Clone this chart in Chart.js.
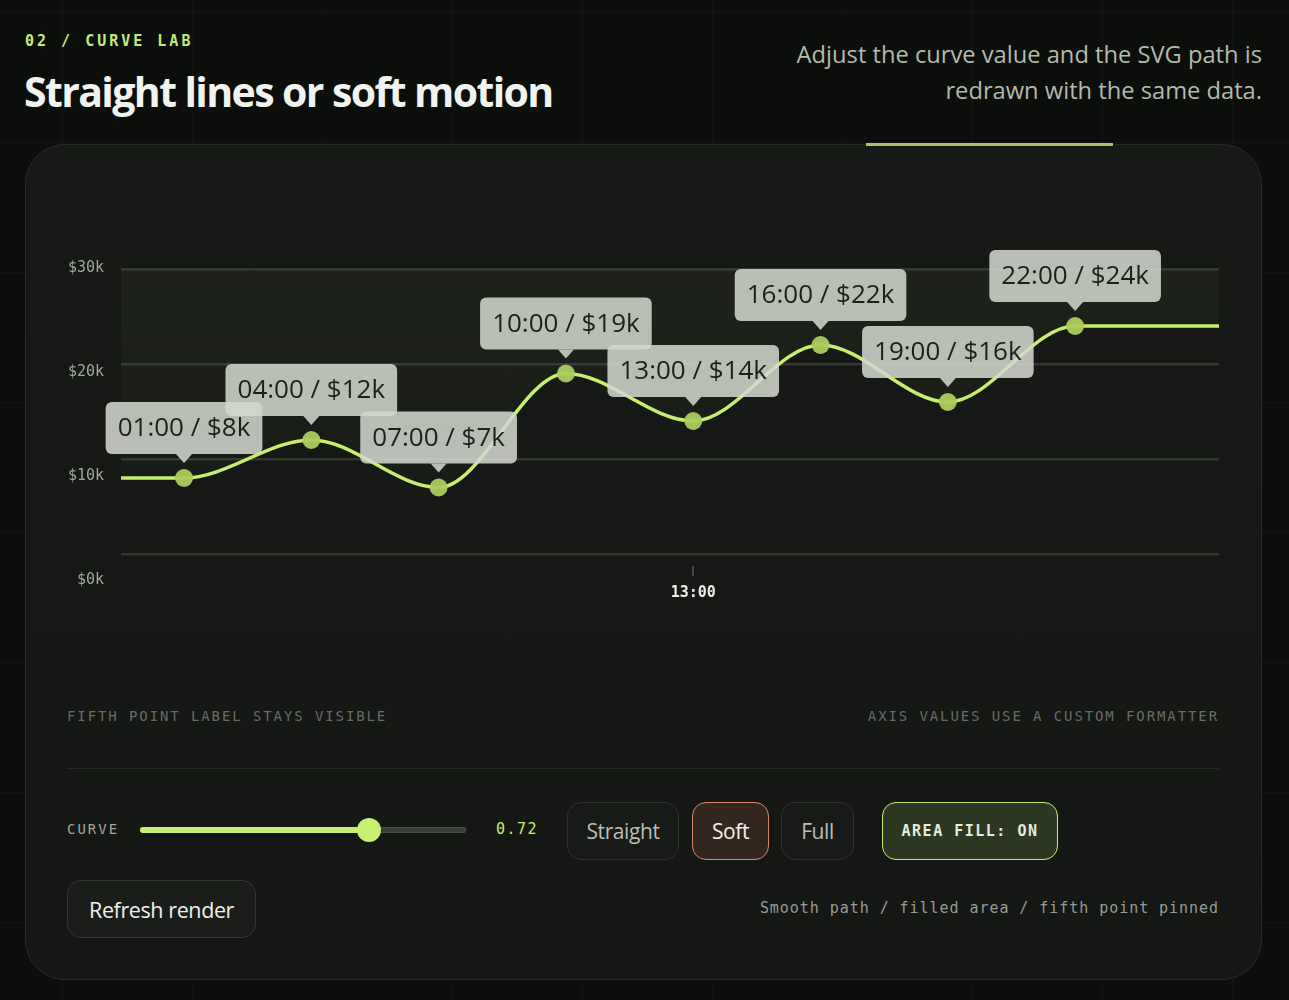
<!DOCTYPE html>
<html>
<head>
<meta charset="utf-8">
<script src="https://cdn.jsdelivr.net/npm/chart.js@4.4.1/dist/chart.umd.min.js"></script>
<style>
  html, body { margin:0; padding:0; }
  body {
    width:1289px; height:1000px; overflow:hidden; position:relative;
    background-color:#0c0e0c;
    background-image:
      linear-gradient(to right, rgba(255,255,255,0.022) 1px, transparent 1px),
      linear-gradient(to bottom, rgba(255,255,255,0.022) 1px, transparent 1px);
    background-size:130px 130px;
    background-position:62px 12px;
    font-family:'Open Sans','Noto Sans',sans-serif;
  }
  .abs { position:absolute; }
  .eyebrow { left:25px; top:32px; font:700 15px 'DejaVu Sans Mono',monospace; letter-spacing:3px; color:#c4ec74; }
  h1 { position:absolute; margin:0; left:24px; top:64px; font:700 41px 'Open Sans',sans-serif; letter-spacing:-1.6px; color:#f1f3ee; line-height:54px; white-space:nowrap; }
  .sub { right:27px; top:36px; width:540px; text-align:right; font:400 23.7px 'Open Sans',sans-serif; line-height:36px; color:#b3baad; }
  .card { left:25px; top:144px; width:1235px; height:834px; border-radius:40px; border:1px solid #272b26; background:linear-gradient(180deg,#161916 0%,#141714 100%); }
  .bar { left:866px; top:143px; width:247px; height:3px; background:#a8c56b; }
  .chartbox { left:40px; top:180px; width:1200px; height:460px; }
  .mono { font-family:'DejaVu Sans Mono',monospace; }
  .foot { top:708px; font-size:14px; letter-spacing:1.9px; color:#676d65; white-space:nowrap; }
  .divider { left:67px; top:768px; width:1152px; height:1px; background:#252924; }
  .curve { left:67px; top:821px; font-size:14px; letter-spacing:2px; color:#a1a69d; }
  .track { left:140px; top:827px; width:326px; height:6px; border-radius:3px; background:#393d38; box-shadow: inset 0 0 0 1px #4b4f49; }
  .trackfill { left:140px; top:827px; width:229px; height:6px; border-radius:3px; background:#c6ee72; }
  .thumb { left:357px; top:818px; width:24px; height:24px; border-radius:50%; background:#c8f074; }
  .val { left:496px; top:820px; font-size:15px; color:#c4ec74; letter-spacing:1.5px; }
  .btn { display:flex; align-items:center; justify-content:center; box-sizing:border-box; border-radius:14px; border:1px solid #2e322d; background:#171a17; color:#b9beb4; font:400 21px 'Open Sans',sans-serif; letter-spacing:-0.4px; }
  .soft { background:#33261f; border-color:#d9846b; color:#f5f0ea; }
  .area { background:#2c3822; border-color:#c5ec70; color:#e6ecdc; font:700 15px 'DejaVu Sans Mono',monospace; letter-spacing:1.5px; }
  .refresh { border-color:#343833; background:#1a1d1a; color:#eef0eb; font-size:21.5px; }
  .note { right:70px; top:899px; font-size:15px; letter-spacing:0.95px; color:#979c94; white-space:nowrap; }
</style>
</head>
<body>
<div class="abs eyebrow">02 / CURVE LAB</div>
<h1>Straight lines or soft motion</h1>
<div class="abs sub">Adjust the curve value and the SVG path is<br>redrawn with the same data.</div>

<div class="abs card"></div>
<div class="abs bar"></div>
<div class="abs chartbox"><canvas id="c" width="1200" height="460"></canvas></div>

<div class="abs mono foot" style="left:67px;">FIFTH POINT LABEL STAYS VISIBLE</div>
<div class="abs mono foot" style="right:70px;">AXIS VALUES USE A CUSTOM FORMATTER</div>
<div class="abs divider"></div>

<div class="abs mono curve">CURVE</div>
<div class="abs track"></div>
<div class="abs trackfill"></div>
<div class="abs thumb"></div>
<div class="abs mono val">0.72</div>

<div class="abs btn" style="left:567px; top:802px; width:112px; height:58px;">Straight</div>
<div class="abs btn soft" style="left:692px; top:802px; width:77px; height:58px;">Soft</div>
<div class="abs btn" style="left:781px; top:802px; width:73px; height:58px;">Full</div>
<div class="abs btn area" style="left:882px; top:802px; width:176px; height:58px;">AREA FILL: ON</div>
<div class="abs btn refresh" style="left:67px; top:880px; width:189px; height:58px;">Refresh render</div>
<div class="abs mono note">Smooth path / filled area / fifth point pinned</div>

<script>
// ---- data ----
const hourLabels = ['01:00','04:00','07:00','10:00','13:00','16:00','19:00','22:00'];
const hourValues = [1, 4, 7, 10, 13, 16, 19, 22];
const revenueK  = [8, 12, 7, 19, 14, 22, 16, 24];
const yTickValues = [0, 10, 20, 30];
const xTickValues = [13];
const xTickLabels = ['13:00'];

// ---- scale extents (layout) ----
const X_MIN = -0.485, X_MAX = 25.39;
const Y_MIN = -1.263, Y_MAX = 30;
const YL_MIN = 1.346, YL_MAX = 29.90;

const points = hourValues.map((h, i) => ({ x: h, y: revenueK[i] }));
const lineData = [{ x: X_MIN, y: revenueK[0] }, ...points, { x: X_MAX, y: revenueK[revenueK.length - 1] }];

const pointLabels = {
  id: 'pointLabels',
  afterDatasetsDraw(chart) {
    const ctx = chart.ctx;
    const meta = chart.getDatasetMeta(0);
    ctx.save();
    ctx.font = '400 26px "Open Sans", "Noto Sans", sans-serif';
    hourValues.forEach((h, i) => {
      const el = meta.data[i + 1];
      const px = el.x, py = el.y;
      const text = hourLabels[i] + ' / $' + revenueK[i] + 'k';
      const w = ctx.measureText(text).width + 24;
      const hgt = 52;
      const bottom = py - 24;
      const top = bottom - hgt;
      const left = px - w / 2;
      ctx.fillStyle = 'rgba(212,216,207,0.86)';
      ctx.beginPath();
      ctx.roundRect(left, top, w, hgt, 6);
      ctx.fill();
      ctx.beginPath();
      ctx.moveTo(px - 8, bottom);
      ctx.lineTo(px + 8, bottom);
      ctx.lineTo(px, bottom + 9);
      ctx.closePath();
      ctx.fill();
      ctx.fillStyle = '#1c201a';
      ctx.textAlign = 'center';
      ctx.textBaseline = 'middle';
      ctx.fillText(text, px, top + hgt / 2 + 1);
    });
    ctx.restore();
  }
};

const ctx = document.getElementById('c').getContext('2d');
new Chart(ctx, {
  type: 'line',
  data: {
    datasets: [{
      data: lineData,
      borderColor: '#c6ef6e',
      borderWidth: 3.5,
      cubicInterpolationMode: 'monotone',
      fill: 'end',
      backgroundColor: (c) => {
        const a = c.chart.chartArea;
        if (!a) return 'rgba(200,240,110,0.03)';
        const g = c.chart.ctx.createLinearGradient(0, a.top, 0, a.bottom);
        g.addColorStop(0, 'rgba(200,240,110,0.045)');
        g.addColorStop(1, 'rgba(200,240,110,0.01)');
        return g;
      },
      pointRadius: (c) => (c.dataIndex === 0 || c.dataIndex === lineData.length - 1) ? 0 : 9,
      pointBackgroundColor: 'rgba(172,204,92,0.95)',
      pointBorderWidth: 0,
      pointHoverRadius: 9
    }]
  },
  options: {
    responsive: false,
    animation: false,
    events: [],
    layout: { padding: { left: 0, right: 21, top: 89, bottom: 0 } },
    plugins: { legend: { display: false }, tooltip: { enabled: false } },
    scales: {
      x: {
        type: 'linear', min: X_MIN, max: X_MAX,
        afterBuildTicks: (s) => { s.ticks = xTickValues.map(v => ({ value: v })); },
        afterFit: (s) => { s.height = 74; },
        border: { display: false },
        grid: { drawOnChartArea: false, drawTicks: true, tickLength: 10, color: '#464a44', lineWidth: 2 },
        ticks: {
          padding: 8, color: '#eceee9', maxRotation: 0,
          font: { family: 'DejaVu Sans Mono', size: 15, weight: '600' },
          callback: (v) => xTickLabels[xTickValues.indexOf(v)]
        }
      },
      y: {
        type: 'linear', position: 'left', weight: 0, min: Y_MIN, max: Y_MAX,
        afterBuildTicks: (s) => { s.ticks = yTickValues.map(v => ({ value: v })); },
        afterFit: (s) => { s.width = 0; },
        border: { display: false },
        grid: { drawTicks: false, color: '#33372f', lineWidth: 2.5 },
        ticks: { display: false }
      },
      yLabels: {
        type: 'linear', position: 'left', weight: 1, min: YL_MIN, max: YL_MAX,
        afterBuildTicks: (s) => { s.ticks = yTickValues.map(v => ({ value: v })); },
        afterFit: (s) => { s.width = 81; },
        border: { display: false },
        grid: { display: false },
        ticks: {
          padding: 9, color: '#a2a79f',
          font: { family: 'DejaVu Sans Mono', size: 15 },
          callback: (v) => '$' + v + 'k'
        }
      }
    }
  },
  plugins: [pointLabels]
});
</script>
</body>
</html>
